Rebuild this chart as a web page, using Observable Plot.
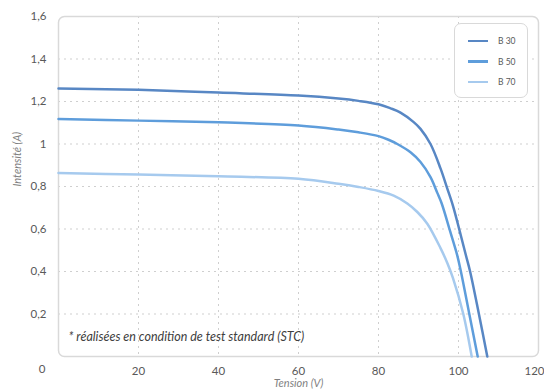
<!DOCTYPE html>
<html>
<head>
<meta charset="utf-8">
<script src="https://cdn.jsdelivr.net/npm/d3@7"></script>
<script src="https://cdn.jsdelivr.net/npm/@observablehq/plot@0.6"></script>
<style>
  html, body { margin: 0; padding: 0; background: #fff; }
  #wrap { position: relative; width: 544px; height: 392px; font-family: Lato, "Open Sans", sans-serif; overflow: hidden; }
  #legend { position: absolute; left: 454px; top: 23px; width: 74px; height: 75px; border: 1px solid #d9d9d9; border-radius: 7px; box-sizing: border-box; background: #fff; }
  .item { position: absolute; left: 13px; height: 10px; display: flex; align-items: center; font-size: 8.5px; color: #595959; }
  .item span.sw { display: inline-block; width: 20px; height: 2.5px; margin-right: 10px; }
</style>
</head>
<body>
<div id="wrap"><div id="chart"></div><div id="legend"></div></div>
<script>
// Series names and colours
const seriesNames = ["B 30", "B 50", "B 70"];
const seriesColors = ["#5887c4", "#5e9ddb", "#a6caee"];

// Tension (V) and Intensité (A)
const voltsB30 = [0, 20, 40, 60, 70, 75, 80, 83, 85.5, 88.8, 90.5, 93, 95.5, 97.2, 98.6, 100.3, 101.8, 102.9, 105.1, 107.2];
const ampsB30  = [1.261, 1.255, 1.242, 1.228, 1.214, 1.203, 1.187, 1.168, 1.148, 1.103, 1.071, 1.0, 0.885, 0.79, 0.71, 0.59, 0.48, 0.4, 0.2, 0];

const voltsB50 = [0, 20, 40, 60, 70, 75, 80, 82.5, 84.7, 88, 90.5, 93, 94.7, 95.8, 97.9, 99.7, 100.6, 102.7, 104.8];
const ampsB50  = [1.118, 1.11, 1.102, 1.087, 1.068, 1.055, 1.037, 1.02, 1.0, 0.961, 0.915, 0.844, 0.77, 0.72, 0.59, 0.475, 0.4, 0.2, 0];

const voltsB70 = [0, 20, 40, 60, 70, 75, 80, 83.8, 87.2, 89.7, 92.2, 95.5, 97.2, 98.6, 101.2, 103.3];
const ampsB70  = [0.864, 0.856, 0.848, 0.836, 0.813, 0.798, 0.779, 0.757, 0.72, 0.68, 0.625, 0.51, 0.44, 0.37, 0.2, 0];

// Axis ticks
const xTickValues = [20, 40, 60, 80, 100, 120];
const yTickValues = [0.2, 0.4, 0.6, 0.8, 1, 1.2, 1.4, 1.6];
const xGridValues = [20, 40, 60, 80, 100];
const yGridValues = [0.2, 0.4, 0.6, 0.8, 1, 1.2, 1.4];

const xTitle = "Tension (V)";
const yTitle = "Intensité (A)";
const note = "* réalisées en condition de test standard (STC)";

const allVolts = [voltsB30, voltsB50, voltsB70];
const allAmps = [ampsB30, ampsB50, ampsB70];
const data = seriesNames.flatMap((s, i) => allVolts[i].map((v, j) => ({series: s, v, a: allAmps[i][j]})));

const fr = d => String(d).replace(".", ",");
const tickStyle = {tickSize: 0, fill: "#595959", fontSize: 11.5, label: null};

const chart = Plot.plot({
  width: 544,
  height: 392,
  marginLeft: 58,
  marginRight: 6,
  marginTop: 16,
  marginBottom: 36,
  style: {fontFamily: "Lato, 'Open Sans', sans-serif", fontSize: "12px", color: "#595959", background: "#fff"},
  x: {domain: [0, 120]},
  y: {domain: [0, 1.6]},
  color: {domain: seriesNames, range: seriesColors},
  marks: [
    Plot.gridX(xGridValues, {stroke: "#cfcfcf", strokeOpacity: 1, strokeDasharray: "2,4"}),
    Plot.gridY(yGridValues, {stroke: "#cfcfcf", strokeOpacity: 1, strokeDasharray: "2,4"}),
    Plot.frame({rx: 6, ry: 6, stroke: "#d9d9d9", strokeWidth: 1.5}),
    Plot.axisY(yTickValues, {...tickStyle, tickPadding: 12, tickFormat: fr}),
    Plot.axisX(xTickValues.slice(0, -1), {...tickStyle, tickPadding: 10}),
    Plot.axisX(xTickValues.slice(-1), {...tickStyle, tickPadding: 10, dx: -4}),
    Plot.text([0], {x: d => d, y: d => d, text: d => fr(d), dx: -13, dy: 13, textAnchor: "end", fill: "#595959", fontSize: 11.5}),
    Plot.text([yTitle], {frameAnchor: "left", dx: -41, rotate: -90, fill: "#7f7f7f", fontSize: 11, fontStyle: "italic"}),
    Plot.text([xTitle], {frameAnchor: "bottom", dy: 30.5, fill: "#7f7f7f", fontSize: 11, fontStyle: "italic"}),
    Plot.text([note], {frameAnchor: "bottom-left", dx: 10, dy: -16, textAnchor: "start", fill: "#404040", fontSize: 12.5, fontStyle: "italic"}),
    Plot.line(data, {x: "v", y: "a", z: "series", stroke: "series", curve: "catmull-rom", strokeWidth: 2.5})
  ]
});
document.getElementById("chart").appendChild(chart);

const legend = document.getElementById("legend");
seriesNames.forEach((s, i) => {
  const it = document.createElement("div");
  it.className = "item";
  it.style.top = (12 + i * 20.5) + "px";
  const sw = document.createElement("span");
  sw.className = "sw";
  sw.style.background = seriesColors[i];
  it.appendChild(sw);
  it.appendChild(document.createTextNode(s));
  legend.appendChild(it);
});
</script>
</body>
</html>
